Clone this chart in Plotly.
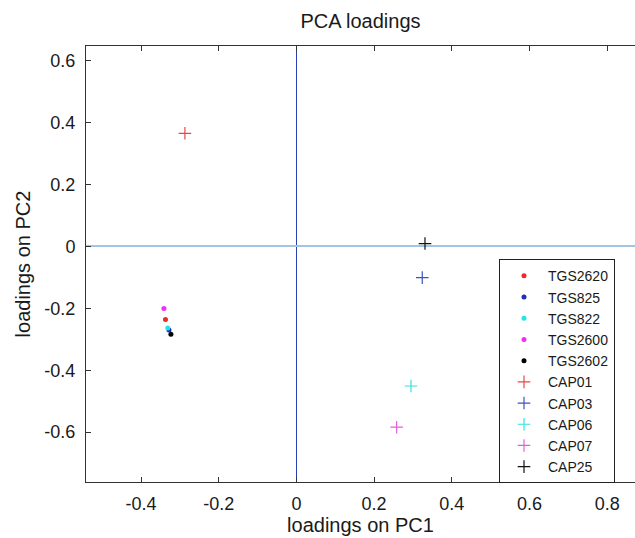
import plotly.graph_objects as go

# Sensor loadings (dots)
sensor_names = ["TGS2620", "TGS825", "TGS822", "TGS2600", "TGS2602"]
sensor_pc1 = [-0.337, -0.328, -0.331, -0.341, -0.323]
sensor_pc2 = [-0.236, -0.270, -0.264, -0.201, -0.284]
sensor_colors = ["#f02828", "#1f2fb8", "#22e6e6", "#f030f0", "#000000"]

# Capacitor loadings (crosses)
cap_names = ["CAP01", "CAP03", "CAP06", "CAP07", "CAP25"]
cap_pc1 = [-0.287, 0.324, 0.295, 0.258, 0.331]
cap_pc2 = [0.365, -0.101, -0.451, -0.584, 0.009]
cap_colors = ["#e84848", "#3a55c0", "#30e4e4", "#e060e0", "#111111"]

x_ticks = [-0.4, -0.2, 0, 0.2, 0.4, 0.6, 0.8]
y_ticks = [-0.6, -0.4, -0.2, 0, 0.2, 0.4, 0.6]

FONT = "Liberation Sans, Arial, Helvetica, sans-serif"

fig = go.Figure()
for n, x, y, c in zip(sensor_names, sensor_pc1, sensor_pc2, sensor_colors):
    fig.add_trace(go.Scatter(x=[x], y=[y], name=n, mode="markers",
                             marker=dict(symbol="circle", size=5, color=c)))
for n, x, y, c in zip(cap_names, cap_pc1, cap_pc2, cap_colors):
    fig.add_trace(go.Scatter(x=[x], y=[y], name=n, mode="markers",
                             marker=dict(symbol="cross-thin", size=9, color=c,
                                         line=dict(color=c, width=1.2))))

fig.update_layout(
    width=635, height=538,
    margin=dict(l=86, r=0, t=46, b=56),
    paper_bgcolor="white", plot_bgcolor="white",
    font=dict(family=FONT, color="#1a1a1a", size=18),
    title=dict(text="PCA loadings", x=0.5, xref="paper", y=1 - 21 / 538,
               yref="container", xanchor="center", yanchor="middle",
               font=dict(size=20, family=FONT, color="#1a1a1a")),
    showlegend=True,
    legend=dict(x=(499 - 86) / 549, y=(481.5 - 259) / 435.5, xanchor="left", yanchor="top",
                bgcolor="white", bordercolor="#222", borderwidth=1,
                font=dict(size=14, family=FONT, color="#1a1a1a"),
                itemwidth=38, tracegroupgap=0,
                entrywidth=80, entrywidthmode="pixels"),
    xaxis=dict(range=[-0.5416, 0.8716], tickvals=x_ticks,
               ticktext=["-0.4", "-0.2", "0", "0.2", "0.4", "0.6", "0.8"],
               showgrid=False, zeroline=True, zerolinecolor="#2a3fb0", zerolinewidth=1.3,
               showline=True, linecolor="#333", linewidth=1, mirror="ticks",
               ticks="inside", ticklen=5, tickcolor="#333",
               ticklabelstandoff=5,
               title=dict(text="loadings on PC1", font=dict(size=20, family=FONT), standoff=4)),
    yaxis=dict(range=[-0.761, 0.647], tickvals=y_ticks,
               ticktext=["-0.6", "-0.4", "-0.2", "0", "0.2", "0.4", "0.6"],
               showgrid=False, zeroline=True, zerolinecolor="#a3c5e2", zerolinewidth=1.5,
               showline=True, linecolor="#333", linewidth=1, mirror=False,
               ticks="inside", ticklen=5, tickcolor="#333",
               ticklabelstandoff=6,
               title=dict(text="loadings on PC2", font=dict(size=20, family=FONT), standoff=8)),
)

fig.write_html("out.html")
